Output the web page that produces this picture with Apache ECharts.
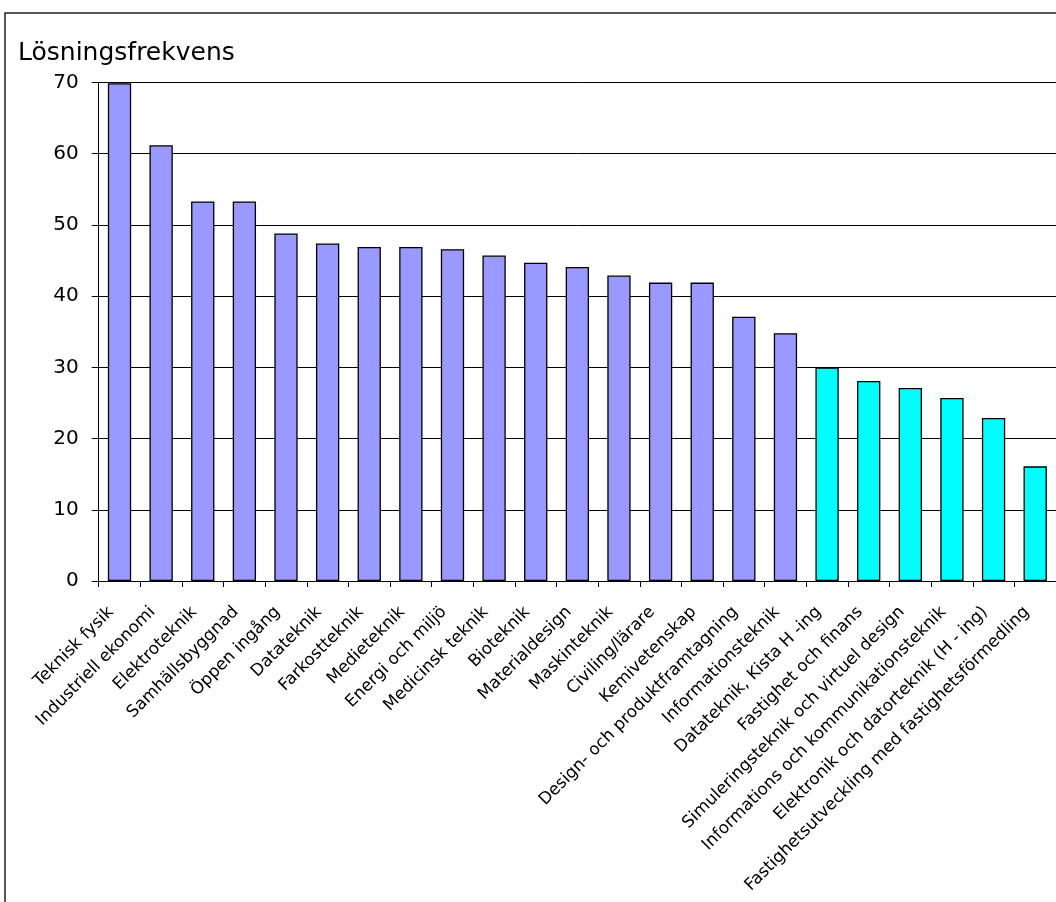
<!DOCTYPE html>
<html>
<head>
<meta charset="utf-8">
<script src="https://cdn.jsdelivr.net/npm/echarts@6/dist/echarts.min.js"></script>
<style>
html,body{margin:0;padding:0;background:#fff;}
#c{width:1056px;height:902px;}
</style>
</head>
<body>
<div id="c"></div>
<script>
const categories = ["Teknisk fysik","Industriell ekonomi","Elektroteknik","Samhällsbyggnad","Öppen ingång","Datateknik","Farkostteknik","Medieteknik","Energi och miljö","Medicinsk teknik","Bioteknik","Materialdesign","Maskinteknik","Civiling/lärare","Kemivetenskap","Design- och produktframtagning","Informationsteknik","Datateknik, Kista H -ing","Fastighet och finans","Simuleringsteknik och virtuel design","Informations och kommunikationsteknik","Elektronik och datorteknik (H - ing)","Fastighetsutveckling med fastighetsförmedling"];
const values = [69.9, 61.2, 53.3, 53.3, 48.8, 47.4, 46.9, 46.9, 46.6, 45.7, 44.7, 44.1, 42.9, 41.9, 41.9, 37.1, 34.8, 30.0, 28.1, 27.1, 25.7, 22.9, 16.1];
const groups = ["A","A","A","A","A","A","A","A","A","A","A","A","A","A","A","A","A","B","B","B","B","B","B"];
const yTicks = [0,10,20,30,40,50,60,70];
const groupColors = {A:"#9999FF", B:"#00FFFF"};

const chart = echarts.init(document.getElementById('c'));
const font = "DejaVu Sans";
chart.setOption({
  backgroundColor: "#fff",
  animation: false,
  title: {
    text: "Lösningsfrekvens",
    left: 13, top: 36,
    textStyle: {fontFamily: font, fontSize: 25, fontWeight: "normal", color: "#000"}
  },
  graphic: [{
    type: "rect", silent: true,
    shape: {x: 5, y: 13, width: 1200, height: 1200},
    style: {fill: "none", stroke: "#222", lineWidth: 1.5}
  }],
  grid: {left: 98.7, top: 82.5, width: 966, height: 498.5, containLabel: false},
  xAxis: {
    type: "category",
    data: categories,
    axisLine: {show: true, lineStyle: {color: "#000", width: 1}},
    axisTick: {show: true, length: 6, interval: 0, lineStyle: {color: "#000"}},
    axisLabel: {
      interval: 0, rotate: 45, margin: 20,
      fontFamily: font, fontSize: 16.8, color: "#000",
      padding: [0, 12, 0, 0]
    }
  },
  yAxis: {
    type: "value", min: yTicks[0], max: yTicks[yTicks.length-1], interval: 10,
    axisLine: {show: true, lineStyle: {color: "#000", width: 1}},
    axisTick: {show: true, length: 7, lineStyle: {color: "#000"}},
    splitLine: {show: true, lineStyle: {color: "#000", width: 1}},
    axisLabel: {margin: 20, fontFamily: font, fontSize: 20, color: "#000"}
  },
  series: [{
    type: "bar",
    barCategoryGap: "44%",
    data: values.map((v, i) => ({value: v, itemStyle: {color: groupColors[groups[i]]}})),
    itemStyle: {borderColor: "#000", borderWidth: 1.3}
  }]
});
</script>
</body>
</html>
